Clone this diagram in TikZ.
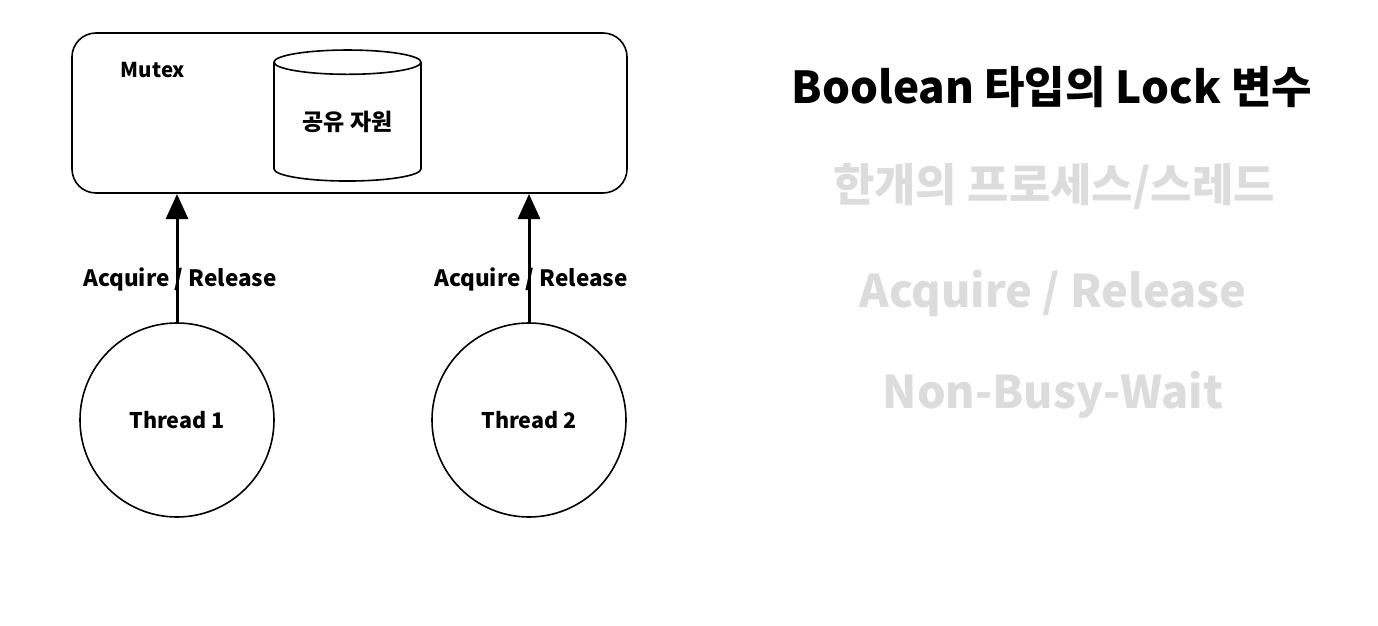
\documentclass[tikz,border=0pt]{standalone}
\usepackage{fontspec}
\setmainfont{Noto Sans CJK KR}
\newfontfamily\kr{Noto Sans CJK KR}
\usetikzlibrary{shapes.geometric,arrows.meta}
\definecolor{faded}{RGB}{220,220,220}
\tikzset{
  box/.style={draw, line width=1.6pt, rounded corners=24pt},
  thread/.style={draw, circle, line width=1.6pt, minimum size=194pt, inner sep=0pt, font=\kr\bfseries\fontsize{21.5}{24}\selectfont},
  res/.style={draw, cylinder, shape border rotate=90, aspect=0.27, line width=1.6pt, minimum width=147pt, minimum height=131pt, inner sep=0pt, font=\kr\bfseries\fontsize{23}{26}\selectfont},
  lbl/.style={font=\kr\bfseries\fontsize{22.5}{26}\selectfont, inner sep=0pt},
  conn/.style={line width=3pt, -{Triangle[length=25pt,width=22pt]}},
  big/.style={font=\kr\bfseries\fontsize{45}{52}\selectfont, inner sep=0pt},
}
\begin{document}
\begin{tikzpicture}[x=1pt,y=-1pt]
\useasboundingbox (0,0) rectangle (1378,626);
\node[box, minimum width=555pt, minimum height=160pt, inner sep=0pt] (mutex) at (349.5,113) {};
\node[lbl, font=\kr\bfseries\fontsize{20.5}{24}\selectfont] (mt) at (153,70) {Mutex};
\node[res] (shared) at (347.5,122) {공유 자원};
\node[thread] (t1) at (177,420) {Thread 1};
\node[thread] (t2) at (529,420) {Thread 2};
\coordinate (m1) at (177,194);
\coordinate (m2) at (529,194);
\node[lbl] (l1) at (180,279) {Acquire / Release};
\node[lbl] (l2) at (531,279) {Acquire / Release};
\draw[conn] (t1.north) -- (m1);
\draw[conn] (t2.north) -- (m2);
\node[big, font=\kr\bfseries\fontsize{44}{50}\selectfont] (title) at (1052,87) {Boolean 타입의 Lock 변수};
\node[big, text=faded] (p1) at (1054,187) {한개의 프로세스/스레드};
\node[big, text=faded] (p2) at (1053,293) {Acquire / Release};
\node[big, text=faded] (p3) at (1053,395) {Non-Busy-Wait};
\end{tikzpicture}
\end{document}
